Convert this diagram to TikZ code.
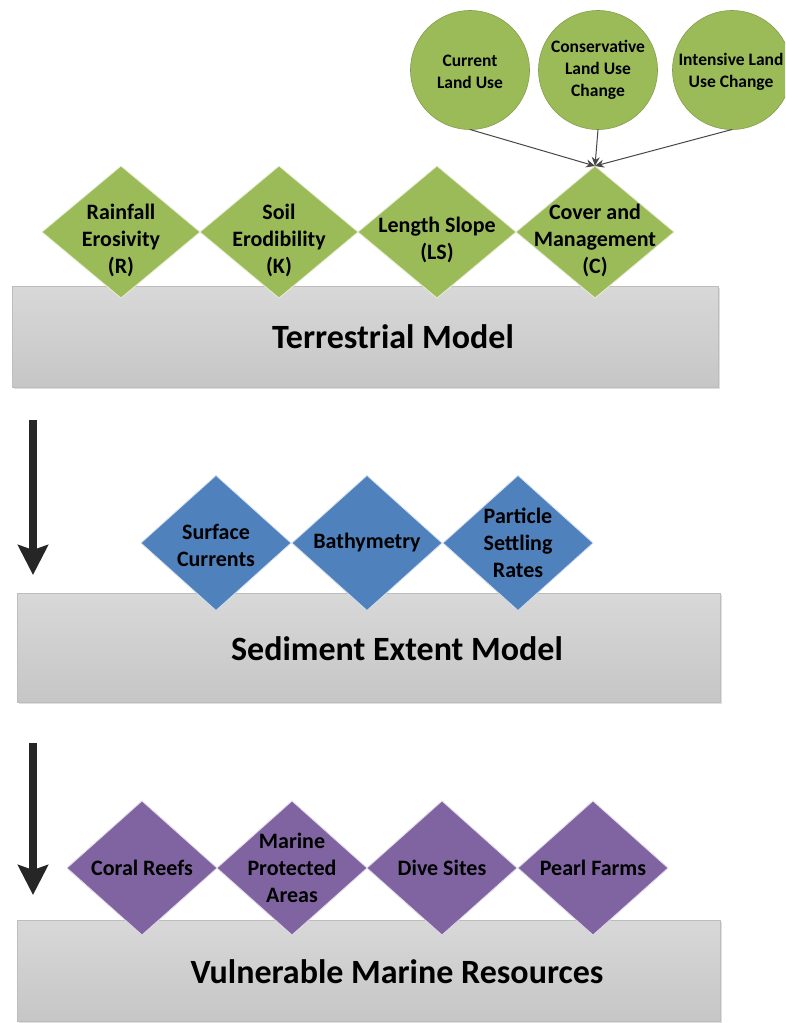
\documentclass[tikz,border=0pt]{standalone}
\usepackage{fontspec}
\setmainfont{Carlito}
\usetikzlibrary{shapes.geometric,arrows.meta,shadows}
\definecolor{gfill}{HTML}{9BBB59}
\definecolor{bfill}{HTML}{4F81BD}
\definecolor{pfill}{HTML}{8064A2}
\definecolor{boxtop}{HTML}{D8D8D8}
\definecolor{boxbot}{HTML}{C6C6C6}
\definecolor{boxedge}{HTML}{BDBDBD}
\definecolor{arrowcol}{HTML}{262626}
\begin{document}
\begin{tikzpicture}[x=1pt,y=-1pt,
  modelbox/.style={rectangle, draw=boxedge, line width=0.8pt, top color=boxtop, bottom color=boxbot,
    inner sep=0pt, outer sep=0pt,
    drop shadow={opacity=0.25, shadow xshift=1.5pt, shadow yshift=-1.5pt}},
  boxtext/.style={font=\bfseries\fontsize{34}{40}\selectfont, text=black, inner sep=0pt},
  gdia/.style={diamond, fill=gfill, draw=white!75!gfill, line width=0.8pt, minimum width=158pt, minimum height=132pt, inner sep=0pt, outer sep=0pt},
  bdia/.style={diamond, fill=bfill, draw=white!75!bfill, line width=0.8pt, minimum width=150pt, minimum height=135pt, inner sep=0pt, outer sep=0pt},
  pdia/.style={diamond, fill=pfill, draw=white!75!pfill, line width=0.8pt, minimum width=150pt, minimum height=134pt, inner sep=0pt, outer sep=0pt},
  dtext/.style={font=\bfseries\fontsize{22}{27}\selectfont, align=center, text=black, inner sep=0pt},
  luse/.style={circle, fill=gfill, draw=gfill!85!black, line width=0.6pt, minimum size=119pt, inner sep=0pt, outer sep=0pt},
  ctext/.style={font=\bfseries\fontsize{17.5}{22}\selectfont, align=center, text=black, inner sep=0pt},
  thinarrow/.style={draw=arrowcol!85!white, line width=1pt, -{Stealth[length=9pt,width=8pt]}},
  bigarrow/.style={draw=arrowcol, line width=8pt, -{Stealth[length=30pt,width=30pt,inset=5pt]}}
]
\clip (0,0) rectangle (785,1023);
\fill[white] (0,0) rectangle (785,1023);

% model boxes
\node[modelbox, minimum width=706pt, minimum height=101pt] (tm) at (365,337) {};
\node[modelbox, minimum width=703pt, minimum height=109pt] (sm) at (368.5,647.5) {};
\node[modelbox, minimum width=703pt, minimum height=101pt] (vm) at (368.5,970.5) {};
\node[boxtext] (tmt) at (393,337) {Terrestrial Model};
\node[boxtext] (smt) at (397,649) {Sediment Extent Model};
\node[boxtext] (vmt) at (397,972) {Vulnerable Marine Resources};

% land use circles
\node[luse] (cur) at (470,70) {};
\node[luse] (con) at (598,70) {};
\node[luse] (int) at (732,70) {};
\node[ctext] (curt) at (470,72) {Current\\Land Use};
\node[ctext] (cont) at (598,70) {Conservative\\Land Use\\Change};
\node[ctext] (intt) at (731,72) {Intensive Land\\Use Change};

% terrestrial factors
\node[gdia] (rr) at (121,232) {};
\node[gdia] (kk) at (279,232) {};
\node[gdia] (ls) at (437,232) {};
\node[gdia] (cc) at (595,232) {};
\node[dtext] (rrt) at ([yshift=-8pt]rr.center) {Rainfall\\Erosivity\\(R)};
\node[dtext] (kkt) at ([yshift=-8pt]kk.center) {Soil\\Erodibility\\(K)};
\node[dtext] (lst) at ([yshift=-8pt]ls.center) {Length Slope\\(LS)};
\node[dtext] (cct) at ([yshift=-8pt]cc.center) {Cover and\\Management\\(C)};

\draw[thinarrow] (cur.south) -- (cc.north);
\draw[thinarrow] (con.south) -- (cc.north);
\draw[thinarrow] (int.south) -- (cc.north);

% sediment factors
\node[bdia] (sc) at (216,543) {};
\node[bdia] (ba) at (367,543) {};
\node[bdia] (ps) at (518,543) {};
\node[dtext] (sct) at ([yshift=-2pt]sc.center) {Surface\\Currents};
\node[dtext] (bat) at (ba.center) {Bathymetry};
\node[dtext] (pst) at (ps.center) {Particle\\Settling\\Rates};

% marine resources
\node[pdia] (cr) at (142,868) {};
\node[pdia] (mp) at (292,868) {};
\node[pdia] (ds) at (442,868) {};
\node[pdia] (pf) at (593,868) {};
\node[dtext] (crt) at (cr.center) {Coral Reefs};
\node[dtext] (mpt) at (mp.center) {Marine\\Protected\\Areas};
\node[dtext] (dst) at (ds.center) {Dive Sites};
\node[dtext] (pft) at (pf.center) {Pearl Farms};

% flow arrows
\coordinate (a1s) at (33,420);
\coordinate (a1e) at (33,575);
\coordinate (a2s) at (33,743);
\coordinate (a2e) at (33,895);
\draw[bigarrow] (a1s) -- (a1e);
\draw[bigarrow] (a2s) -- (a2e);
\end{tikzpicture}
\end{document}
